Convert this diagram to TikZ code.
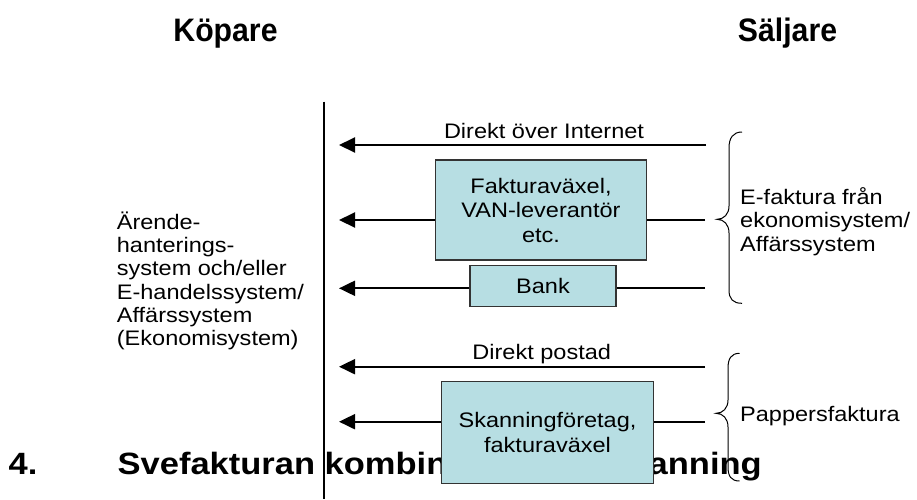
\documentclass[tikz,border=0pt]{standalone}
\usepackage{fontspec}
\setmainfont{Liberation Sans}[FakeStretch=1.12]
\newfontfamily\hdfont{Liberation Sans}[FakeStretch=0.93]
\usetikzlibrary{arrows.meta}
\definecolor{boxfill}{RGB}{183,222,227}
\begin{document}
\begin{tikzpicture}[x=1pt,y=-1pt,
  txt/.style={inner sep=0pt, font=\fontsize{21}{23.3}\selectfont},
  hd/.style={inner sep=0pt, font=\hdfont\bfseries\fontsize{32.5}{36}\selectfont, anchor=base},
  ttl/.style={inner sep=0pt, font=\bfseries\fontsize{30.8}{34}\selectfont, anchor=base west},
  boxn/.style={draw=black!80, line width=1.2pt, fill=boxfill, inner sep=0pt, align=center, font=\fontsize{21}{24.5}\selectfont},
  arr/.style={line width=2pt, -{Triangle[length=16pt,width=15pt]}},
  ln/.style={line width=2pt},
  bracestyle/.style={line width=1pt}]
\useasboundingbox[fill=white] (0,0) rectangle (917,499);
% headers
\node[hd] (kop) at (225.5,41.7) {Köpare};
\node[hd] (salj) at (787.5,41.2) {Säljare};
% title
\node[ttl] (num) at (8.5,474.3) {4.};
\node[ttl] (title) at (117.5,474.3) {Svefakturan kombinerad med skanning};
% vertical line
\coordinate (vt) at (324,101.5);
\coordinate (vb) at (324,499);
\draw[ln] (vt) -- (vb);
% left label
\node[txt, align=left, anchor=west] (buyer) at (116.7,281) {Ärende-\\hanterings-\\system och/eller\\E-handelssystem/\\Affärssystem\\(Ekonomisystem)};
% end coordinates
\coordinate (r1) at (706,145);  \coordinate (l1) at (339,145);
\coordinate (r2) at (705,220);  \coordinate (l2) at (339,220);
\coordinate (r3) at (705,288.3);\coordinate (l3) at (339,288.3);
\coordinate (r4) at (705,366.7);\coordinate (l4) at (339,366.7);
\coordinate (r5) at (705,421.7);\coordinate (l5) at (339,421.7);
% boxes
\node[boxn, minimum width=211.7pt, minimum height=100pt] (fv) at (541,210) {Fakturaväxel,\\VAN-leverantör\\etc.};
\node[boxn, minimum width=146pt, minimum height=41.7pt] (bank) at (543,286) {Bank};
\node[boxn, minimum width=211.6pt, minimum height=101.6pt] (skan) at (547.5,432.5) {Skanningföretag,\\fakturaväxel};
% arrows
\draw[arr] (r1) -- (l1);
\draw[ln] (r2) -- (fv.east |- r2);
\draw[arr] (fv.west |- l2) -- (l2);
\draw[ln] (r3) -- (bank.east |- r3);
\draw[arr] (bank.west |- l3) -- (l3);
\draw[arr] (r4) -- (l4);
\draw[ln] (r5) -- (skan.east |- r5);
\draw[arr] (skan.west |- l5) -- (l5);
% arrow labels
\node[txt, anchor=base] (lab1) at (544,138.3) {Direkt över Internet};
\node[txt, anchor=base] (lab4) at (541.7,359) {Direkt postad};
% braces
\coordinate (b1t) at (742,132);
\coordinate (b1m) at (717,219.3);
\coordinate (b1b) at (742,303.3);
\draw[bracestyle] (b1t) .. controls (733,132) and (729,138) .. (729,148) -- (729,206)
  .. controls (729,214) and (724,219.3) .. (b1m)
  .. controls (724,219.3) and (729,224.6) .. (729,233) -- (729,290)
  .. controls (729,299) and (733,303.3) .. (b1b);
\coordinate (b2t) at (739.5,353.3);
\coordinate (b2m) at (716,413.3);
\coordinate (b2b) at (739.5,481);
\draw[bracestyle] (b2t) .. controls (731,353.3) and (728,359) .. (728,368) -- (728,400)
  .. controls (728,408) and (723,413.3) .. (b2m)
  .. controls (723,413.3) and (728,418.6) .. (728,427) -- (728,467)
  .. controls (728,476) and (731,481) .. (b2b);
% brace labels
\node[txt, align=left, anchor=west] (efak) at (740,221.5) {E-faktura från\\ekonomisystem/\\Affärssystem};
\node[txt, anchor=base west] (papp) at (740,421.7) {Pappersfaktura};
\end{tikzpicture}
\end{document}
